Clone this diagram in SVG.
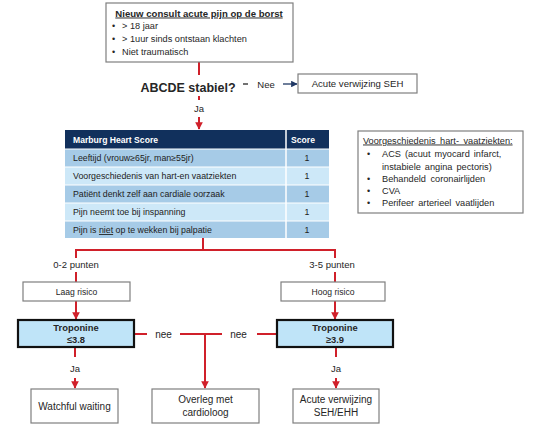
<svg xmlns="http://www.w3.org/2000/svg" width="533" height="425" viewBox="0 0 533 425">
<defs>
<marker id="ar" viewBox="0 0 10 10" refX="9" refY="5" markerWidth="3.8" markerHeight="3.8" orient="auto" markerUnits="strokeWidth"><path d="M0,0 L10,5 L0,10 z" fill="#d0202a"/></marker>
<marker id="ab" viewBox="0 0 10 10" refX="9" refY="5" markerWidth="5" markerHeight="5" orient="auto" markerUnits="strokeWidth"><path d="M0,0 L10,5 L0,10 z" fill="#1f3864"/></marker>
<style>
text{font-family:"Liberation Sans",Arial,sans-serif;fill:#262626}
.box{fill:#fff;stroke:#7f7f7f;stroke-width:1.2}
.trop{fill:#bfe4f8;stroke:#111;stroke-width:2.2}
.red{stroke:#d0202a;stroke-width:2;fill:none}
.b{font-weight:bold}
.hdr{fill:#fff;font-weight:bold;font-size:8.6px}
.cell{font-size:8.8px;fill:#222}
.dk{fill:#a6cbe7}
.lt{fill:#cde8f8}
.lbl{font-size:9.5px}
</style>
</defs>

<g id="connectors">
<line class="red" x1="199" y1="62" x2="199" y2="75"/>
<line class="red" x1="199" y1="96" x2="199" y2="100"/>
<line class="red" x1="199" y1="117" x2="199" y2="129" marker-end="url(#ar)"/>
<line x1="243" y1="84" x2="248" y2="84" stroke="#262626" stroke-width="1.3"/>
<line x1="283" y1="84" x2="297" y2="84" stroke="#1f3864" stroke-width="1.3" marker-end="url(#ab)"/>
<line class="red" x1="203" y1="238" x2="203" y2="250"/>
<polyline class="red" points="76,258 76,250 335,250 335,258"/>
<line class="red" x1="76" y1="272" x2="76" y2="282"/>
<line class="red" x1="335" y1="272" x2="335" y2="282"/>
<line class="red" x1="76" y1="301" x2="76" y2="319" marker-end="url(#ar)"/>
<line class="red" x1="335" y1="301" x2="335" y2="319" marker-end="url(#ar)"/>
<line class="red" x1="134" y1="334" x2="147" y2="334"/>
<line class="red" x1="180" y1="334" x2="222" y2="334"/>
<line class="red" x1="257" y1="334" x2="277" y2="334"/>
<line class="red" x1="205" y1="334" x2="205" y2="388" marker-end="url(#ar)"/>
<line class="red" x1="75" y1="347" x2="75" y2="357"/>
<line class="red" x1="75" y1="378" x2="75" y2="388" marker-end="url(#ar)"/>
<line class="red" x1="336" y1="347" x2="336" y2="357"/>
<line class="red" x1="336" y1="378" x2="336" y2="388" marker-end="url(#ar)"/>
<text x="266" y="87.5" class="lbl" text-anchor="middle">Nee</text>
<text x="199" y="111.5" class="lbl" text-anchor="middle">Ja</text>
<text x="76" y="267.5" class="lbl" text-anchor="middle">0-2 punten</text>
<text x="332" y="267.5" class="lbl" text-anchor="middle">3-5 punten</text>
<text x="163.5" y="337.5" font-size="10" text-anchor="middle">nee</text>
<text x="238.5" y="337.5" font-size="10" text-anchor="middle">nee</text>
<text x="75" y="371.5" class="lbl" text-anchor="middle">Ja</text>
<text x="336" y="371.5" class="lbl" text-anchor="middle">Ja</text>
</g>

<g id="start">
<rect class="box" x="106" y="3" width="187" height="59"/>
<text x="199" y="16.5" font-size="9.6" class="b" text-anchor="middle" text-decoration="underline">Nieuw consult acute pijn op de borst</text>
<text x="112" y="28.5" font-size="9">•</text><text x="122" y="28.5" font-size="9.2">&gt; 18 jaar</text>
<text x="112" y="41.5" font-size="9">•</text><text x="122" y="41.5" font-size="9.2">&gt; 1uur sinds ontstaan klachten</text>
<text x="112" y="55" font-size="9">•</text><text x="122" y="55" font-size="9.2">Niet traumatisch</text>
</g>

<g id="abcde">
<text x="188" y="92" font-size="12.5" class="b" text-anchor="middle" fill="#111">ABCDE stabiel?</text>
</g>

<g id="seh">
<rect class="box" x="298" y="74" width="119" height="19"/>
<text x="357.5" y="87" font-size="9.6" text-anchor="middle">Acute verwijzing SEH</text>
</g>

<g id="marburg">
<rect x="65" y="130" width="264" height="19" fill="#11305c"/>
<rect class="dk" x="65" y="149" width="264" height="18"/>
<rect class="lt" x="65" y="167" width="264" height="18"/>
<rect class="dk" x="65" y="185" width="264" height="18"/>
<rect class="lt" x="65" y="203" width="264" height="18"/>
<rect class="dk" x="65" y="221" width="264" height="17"/>
<g stroke="#fff" stroke-width="1">
<line x1="65" y1="149" x2="329" y2="149"/>
<line x1="65" y1="167" x2="329" y2="167"/>
<line x1="65" y1="185" x2="329" y2="185"/>
<line x1="65" y1="203" x2="329" y2="203"/>
<line x1="65" y1="221" x2="329" y2="221"/>
<line x1="286" y1="130" x2="286" y2="238" stroke-width="1.5"/>
</g>
<text x="73" y="142.5" class="hdr">Marburg Heart Score</text>
<text x="303" y="142.5" class="hdr" text-anchor="middle">Score</text>
<text x="73" y="161" class="cell">Leeftijd (vrouw≥65jr, man≥55jr)</text>
<text x="73" y="179" class="cell">Voorgeschiedenis van hart-en vaatziekten</text>
<text x="73" y="197" class="cell">Patiënt denkt zelf aan cardiale oorzaak</text>
<text x="73" y="215" class="cell">Pijn neemt toe bij inspanning</text>
<text x="73" y="233" class="cell">Pijn is <tspan text-decoration="underline">niet</tspan> op te wekken bij palpatie</text>
<g text-anchor="middle">
<text x="307" y="161" class="cell">1</text>
<text x="307" y="179" class="cell">1</text>
<text x="307" y="197" class="cell">1</text>
<text x="307" y="215" class="cell">1</text>
<text x="307" y="233" class="cell">1</text>
</g>
</g>

<g id="history">
<rect class="box" x="358" y="131" width="165" height="82"/>
<text x="363" y="143.5" font-size="9.2" text-decoration="underline" word-spacing="2">Voorgeschiedenis hart- vaatziekten:</text>
<text x="367" y="157" font-size="9">•</text><text x="382" y="157" font-size="9.2" word-spacing="1.5">ACS (acuut myocard infarct,</text>
<text x="382" y="169.5" font-size="9.2" word-spacing="1.5">instabiele angina pectoris)</text>
<text x="367" y="181.5" font-size="9">•</text><text x="382" y="181.5" font-size="9.2" word-spacing="2">Behandeld coronairlijden</text>
<text x="367" y="193.5" font-size="9">•</text><text x="382" y="193.5" font-size="9.2">CVA</text>
<text x="367" y="206" font-size="9">•</text><text x="382" y="206" font-size="9.2" word-spacing="1.5">Perifeer arterieel vaatlijden</text>
</g>

<g id="laag">
<rect class="box" x="23" y="282" width="107" height="19"/>
<text x="76.5" y="294.5" font-size="8.6" text-anchor="middle">Laag risico</text>
</g>
<g id="hoog">
<rect class="box" x="281" y="282" width="104" height="19"/>
<text x="333" y="294.5" font-size="8.6" text-anchor="middle">Hoog risico</text>
</g>

<g id="trop-low">
<rect class="trop" x="18" y="320" width="116" height="27"/>
<text x="76" y="330.5" font-size="9.4" class="b" text-anchor="middle" fill="#111">Troponine</text>
<text x="76" y="343" font-size="9.4" class="b" text-anchor="middle" fill="#111">≤3.8</text>
</g>
<g id="trop-high">
<rect class="trop" x="277" y="320" width="116" height="27"/>
<text x="335" y="330.5" font-size="9.4" class="b" text-anchor="middle" fill="#111">Troponine</text>
<text x="335" y="343" font-size="9.4" class="b" text-anchor="middle" fill="#111">≥3.9</text>
</g>

<g id="watchful">
<rect class="box" x="31" y="389" width="87" height="34"/>
<text x="74.5" y="409.5" font-size="10" text-anchor="middle">Watchful waiting</text>
</g>
<g id="overleg">
<rect class="box" x="152" y="389" width="107" height="34"/>
<text x="205.5" y="403" font-size="10" text-anchor="middle">Overleg met</text>
<text x="205.5" y="416" font-size="10" text-anchor="middle">cardioloog</text>
</g>
<g id="acute">
<rect class="box" x="293" y="389" width="86" height="34"/>
<text x="336" y="403" font-size="10" text-anchor="middle">Acute verwijzing</text>
<text x="336" y="416" font-size="10" text-anchor="middle">SEH/EHH</text>
</g>
</svg>
